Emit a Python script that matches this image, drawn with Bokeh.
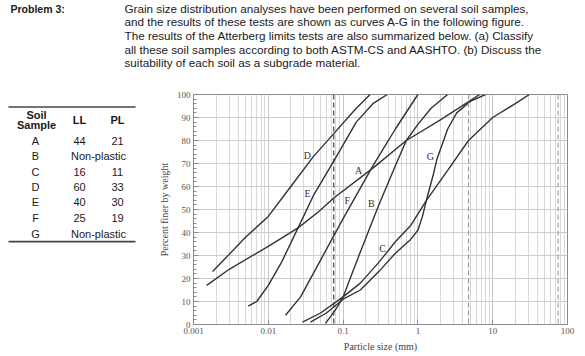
from bokeh.plotting import figure
from bokeh.layouts import column, row
from bokeh.models import Span, FixedTicker, Range1d, ColumnDataSource
from bokeh.core.properties import value
from bokeh.embed import file_html
from bokeh.resources import INLINE

# ---------------- data ----------------
problem_title = "Problem 3:"
problem_lines = [
    "Grain size distribution analyses have been performed on several soil samples,",
    "and the results of these tests are shown as curves A-G in the following figure.",
    "The results of the Atterberg limits tests are also summarized below. (a) Classify",
    "all these soil samples according to both ASTM-CS and AASHTO. (b) Discuss the",
    "suitability of each soil as a subgrade material.",
]

samples = ["A", "B", "C", "D", "E", "F", "G"]
LL = [44, None, 16, 60, 40, 25, None]
PL = [21, None, 11, 33, 30, 19, None]

# grain size curves: particle size (mm) and percent finer
d_A = [0.0015, 0.003, 0.01, 0.025, 0.047, 0.075, 0.25, 0.7, 2.0, 6.7]
p_A = [17, 24, 34, 42, 49, 55, 68, 80, 89, 100]
d_B = [0.058, 0.07, 0.085, 0.1, 0.15, 0.3, 0.5, 0.7, 1.0, 1.5, 2.5]
p_B = [0.5, 4, 8, 12, 27, 52, 69, 80, 87, 94, 100]
d_C = [0.0286, 0.05, 0.1, 0.17, 0.3, 0.5, 0.8, 1.3, 2.5, 4.75, 10, 20, 31]
p_C = [1, 5, 12, 18, 27, 36, 43, 54, 67, 80, 90, 96, 100]
d_D = [0.0018, 0.005, 0.01, 0.02, 0.04, 0.075, 0.15, 0.23]
p_D = [23, 38, 47, 60, 73, 83, 94, 100]
d_E = [0.0054, 0.007, 0.01, 0.015, 0.025, 0.04, 0.075, 0.15, 0.25, 0.39]
p_E = [8, 10, 17, 27, 42, 56, 71, 88, 96, 100]
d_F = [0.017, 0.027, 0.05, 0.1, 0.25, 0.5, 1.0]
p_F = [4, 12, 28, 46, 69, 85, 100]
d_G = [0.0366, 0.06, 0.1, 0.17, 0.3, 0.5, 0.8, 1.0, 1.15, 1.3, 1.6, 1.8, 2.5, 3.3, 5.0, 8.0]
p_G = [1, 5, 11, 15, 23, 31, 37, 41, 47, 54, 65, 72, 85, 92, 97, 100]

curve_names = ["A", "B", "C", "D", "E", "F", "G"]
curve_d = [d_A, d_B, d_C, d_D, d_E, d_F, d_G]
curve_p = [p_A, p_B, p_C, p_D, p_E, p_F, p_G]

label_d = [0.161, 0.239, 0.336, 0.0334, 0.0334, 0.114, 1.47]
label_p = [67, 52.6, 33, 73.5, 57, 54, 73]

sieve_sizes = [0.075, 4.75, 75]
sieve_colors = ["#333333", "#9a9a9a", "#9a9a9a"]

x_ticks = [0.001, 0.01, 0.1, 1, 10, 100]
x_tick_labels = ["0.001", "0.01", "0.1", "1", "10", "100"]
x_minor = [m * t for t in [0.001, 0.01, 0.1, 1, 10] for m in range(2, 10)]
y_ticks = list(range(0, 101, 10))
y_minor = list(range(0, 101, 2))

# ---------------- geometry ----------------
W, H = 585, 356
TOP_H = 80          # height of the text strip
TABLE_W = 140       # width of the table panel
FL, FT, FR, FB = 193, 94, 567, 324  # chart frame edges in page pixels

SERIF = "Liberation Serif"
SANS = "Liberation Sans"
INK = "#1a1a1a"


def blank(width, height, x0, x1, y0, y1):
    f = figure(width=width, height=height, x_range=Range1d(x0, x1), y_range=Range1d(y1, y0),
               output_backend="svg", toolbar_location=None, min_border=0)
    f.axis.visible = False
    f.grid.visible = False
    f.outline_line_color = None
    f.background_fill_color = "white"
    f.border_fill_color = "white"
    return f


# ---------------- top text strip ----------------
top = blank(W, TOP_H, 0, W, 0, TOP_H)
top.text(x=[10], y=[8], text=[problem_title], text_font=value(SANS), text_font_size="10.5px",
         text_font_style="bold", text_color=INK, text_baseline="middle")
top.text(x=[124] * len(problem_lines), y=[7.5 + 13.7 * i for i in range(len(problem_lines))],
         text=problem_lines, text_font=value(SANS), text_font_size="11.7px",
         text_color=INK, text_baseline="middle")

# ---------------- table panel ----------------
tab = blank(TABLE_W, H - TOP_H, 0, TABLE_W, TOP_H, H)
tab.quad(left=[8, 8], right=[135, 135], top=[94, 255.5], bottom=[96, 257.5],
         fill_color="#444444", line_color=None)
tab.text(x=[36, 36, 79, 117], y=[104, 116.5, 111, 111], text=["Soil", "Sample", "LL", "PL"],
         text_font=value(SANS), text_font_size="11px", text_font_style="bold",
         text_color=INK, text_align="center", text_baseline="middle")
row_y = [135.5, 154, 172.5, 191.5, 209.5, 228, 247]
tx, ty, tt = [], [], []
for s, ll, pl, y in zip(samples, LL, PL, row_y):
    tx.append(35); ty.append(y); tt.append(s)
    if ll is None:
        tx.append(98); ty.append(y); tt.append("Non-plastic")
    else:
        tx += [79, 117]; ty += [y, y]; tt += [str(ll), str(pl)]
tab.text(x=tx, y=ty, text=tt, text_font=value(SANS), text_font_size="11px",
         text_color=INK, text_align="center", text_baseline="middle")

# ---------------- chart ----------------
CW, CH = W - TABLE_W, H - TOP_H
p = figure(width=CW, height=CH, x_axis_type="log",
           x_range=Range1d(0.001, 100), y_range=Range1d(0, 100),
           output_backend="svg", toolbar_location=None,
           min_border_left=FL - TABLE_W, min_border_right=W - FR,
           min_border_top=FT - TOP_H, min_border_bottom=H - FB)
p.background_fill_color = "white"
p.border_fill_color = "white"
p.outline_line_color = "#8a8a8a"
p.outline_line_width = 1

p.xaxis.ticker = FixedTicker(ticks=x_ticks, minor_ticks=[])
p.xaxis.major_label_overrides = {t: l for t, l in zip(x_ticks, x_tick_labels)}
p.yaxis.ticker = FixedTicker(ticks=y_ticks, minor_ticks=y_minor)
for ax in (p.xaxis[0], p.yaxis[0]):
    ax.axis_line_color = "#8a8a8a"
    ax.major_tick_line_color = "#8a8a8a"
    ax.minor_tick_line_color = "#8a8a8a"
    ax.major_tick_in = 5
    ax.major_tick_out = 0
    ax.minor_tick_in = 3
    ax.minor_tick_out = 0
    ax.major_label_text_font = SERIF
    ax.major_label_text_font_size = "9px"
    ax.major_label_text_color = "#555555"
    ax.major_label_standoff = 3
    ax.axis_label_text_font = SERIF
    ax.axis_label_text_font_size = "10px"
    ax.axis_label_text_font_style = "normal"
    ax.axis_label_text_color = "#444444"
    ax.axis_label_standoff = 4
p.xaxis.axis_label = "Particle size (mm)"
p.yaxis.axis_label = "Percent finer by weight"

p.xgrid.ticker = FixedTicker(ticks=x_ticks, minor_ticks=x_minor)
p.xgrid.grid_line_color = "#c8c8c8"
p.xgrid.minor_grid_line_color = "#d8d8d8"
p.ygrid.ticker = FixedTicker(ticks=y_ticks)
p.ygrid.grid_line_color = "#cccccc"

for s, c in zip(sieve_sizes, sieve_colors):
    p.add_layout(Span(location=s, dimension="height", line_color=c,
                      line_dash="5 3", line_width=1.1))

for d, pc in zip(curve_d, curve_p):
    p.line(d, pc, line_color="#333333", line_width=1.4)

src = ColumnDataSource(dict(x=label_d, y=label_p, t=curve_names))
p.text(x="x", y="y", text="t", source=src, text_font=value(SERIF),
       text_font_size="10px", text_color="#333333",
       text_align="center", text_baseline="middle")

layout = column(top, row(tab, p))
open("out.html", "w").write(file_html(layout, INLINE))
